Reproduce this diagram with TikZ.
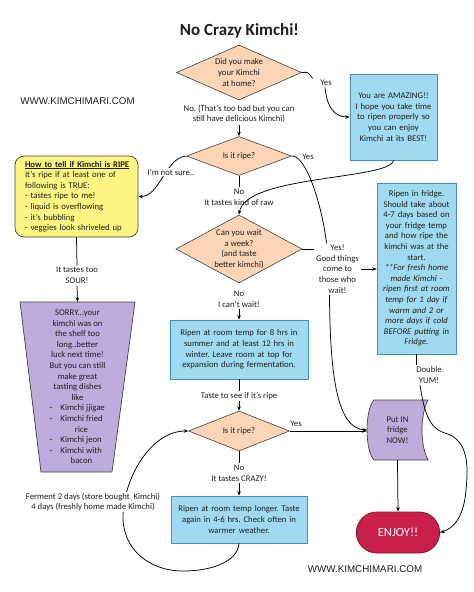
\documentclass[tikz,border=0pt]{standalone}
\usepackage{fontspec}
\setmainfont{Carlito}
\newfontfamily\arialfont{Liberation Sans}
\usetikzlibrary{shapes.geometric,shapes.misc,arrows.meta,backgrounds}
\definecolor{peach}{RGB}{251,213,181}
\definecolor{skyfill}{RGB}{160,218,240}
\definecolor{skyline}{RGB}{70,140,190}
\definecolor{yelfill}{RGB}{255,245,130}
\definecolor{purfill}{RGB}{190,172,220}
\definecolor{enjfill}{RGB}{200,32,75}
\definecolor{enjline}{RGB}{130,20,45}
\definecolor{ink}{RGB}{30,30,30}
\frenchspacing
\begin{document}
\frenchspacing
\begin{tikzpicture}[x=1pt,y=-1pt,
  txt/.style={font=\fontsize{8.7}{10.6}\selectfont\frenchspacing, text=ink, align=center, inner sep=1.5pt},
  lbl/.style={txt},
  dia/.style={diamond, draw=black!75, line width=0.6pt, fill=peach, inner sep=0pt},
  sky/.style={rectangle, draw=skyline, line width=0.7pt, fill=skyfill, txt, inner sep=2pt},
  shapeline/.style={draw=black!75, line width=0.7pt},
  con/.style={draw=black, line width=0.75pt},
  arr/.style={con, -{Stealth[length=4.5pt,width=3.6pt]}},
  web/.style={font=\arialfont\fontsize{9.8}{12}\selectfont, text=ink, anchor=base}
]
\useasboundingbox (0,0) rectangle (474,592);

% titles
\node[font=\bfseries\fontsize{17}{20}\selectfont, text=ink, anchor=base] (title) at (239.5,35) {No Crazy Kimchi!};
\node[web] (web1) at (77.5,104) {WWW.KIMCHIMARI.COM};
\node[web] (web2) at (365,572.5) {WWW.KIMCHIMARI.COM};

% diamonds
\node[dia, minimum width=125pt, minimum height=55pt, label={[txt]center:Did you make\\your Kimchi\\at home?}] (d1) at (239,72.5) {};
\node[dia, minimum width=105pt, minimum height=39pt, label={[txt]center:Is it ripe?}] (d2) at (239,156) {};
\node[dia, minimum width=126pt, minimum height=68pt, label={[txt]center:Can you wait\\a week?\\(and taste\\better kimchi)}] (d3) at (239,249) {};
\node[dia, minimum width=101pt, minimum height=40pt, label={[txt]center:Is it ripe?}] (d4) at (239,431) {};

% blue boxes
\node[sky, minimum width=87pt, minimum height=86pt, text width=83pt] (box1) at (393.5,117) {You are AMAZING!!\\ I hope you take time\\ to ripen properly so\\ you can enjoy\\ Kimchi at its BEST!};
\node[sky, minimum width=138pt, minimum height=59pt, text width=134pt] (box2) at (239,349.5) {Ripen at room temp for 8 hrs in\\ summer and at least 12 hrs in\\ winter. Leave room at top for\\ expansion during fermentation.};
\node[sky, minimum width=79pt, minimum height=171pt, text width=75pt] (box3) at (416.5,268.5) {Ripen in fridge.\\ Should take about\\ 4-7 days based on\\ your fridge temp\\ and how ripe the\\ kimchi was at the\\ start.\\ \textit{**For fresh home}\\ \textit{made Kimchi -}\\ \textit{ripen first at room}\\ \textit{temp for 1 day if}\\ \textit{warm and 2 or}\\ \textit{more days if cold}\\ \textit{BEFORE putting in}\\ \textit{Fridge.}};
\node[sky, minimum width=136pt, minimum height=47pt, text width=132pt] (box4) at (239,519.5) {Ripen at room temp longer. Taste\\ again in 4-6 hrs. Check often in\\ warmer weather.};

% yellow box
\node[shapeline, fill=yelfill, rounded corners=9pt, minimum width=123pt, minimum height=81pt, text width=103pt, inner xsep=10pt, inner ysep=2pt, font=\fontsize{8.7}{10.6}\selectfont, text=ink, align=left] (yellow) at (76.5,196.5) {\underline{\textbf{How to tell if Kimchi is RIPE}}\\ * It’s ripe if at least one of\\ following is TRUE:\\ - tastes ripe to me!\\ - liquid is overflowing\\ - it’s bubbling\\ - veggies look shriveled up};

% sorry trapezoid
\node[txt, minimum height=170pt, minimum width=115pt] (sorry) at (77.5,387) {SORRY...your\\ kimchi was on\\ the shelf too\\ long..better\\ luck next time!\\ But you can still\\ make great\\ tasting dishes\\ like\\
\makebox[56pt][l]{\makebox[11pt][l]{-}Kimchi jjigae}\\
\makebox[56pt][l]{\makebox[11pt][l]{-}Kimchi fried}\\
\makebox[56pt][l]{\hspace*{11pt}\makebox[42pt]{rice}}\\
\makebox[56pt][l]{\makebox[11pt][l]{-}Kimchi jeon}\\
\makebox[56pt][l]{\makebox[11pt][l]{-}Kimchi with}\\
\makebox[56pt][l]{\hspace*{11pt}\makebox[42pt]{bacon}}};
\begin{scope}[on background layer]
\draw[shapeline, fill=purfill] (20,302) -- (135,302) -- (112,472) -- (41,472) -- cycle;
\end{scope}

% fridge
\node[txt, minimum width=61pt, minimum height=60pt] (fridge) at (397.5,430) {Put IN\\fridge\\NOW!};
\begin{scope}[on background layer]
\draw[shapeline, fill=purfill] (374,400) -- (428,400) .. controls (420,415) and (420,445) .. (428,460) -- (374,460) .. controls (364.7,450) and (364.7,410) .. (374,400) -- cycle;
\end{scope}

% enjoy
\node[rounded rectangle, draw=enjline, line width=0.8pt, fill=enjfill, minimum width=90pt, minimum height=41pt, text=white, font=\fontsize{12.5}{15}\selectfont] (enjoy) at (398,532.5) {ENJOY!!};

% labels
\node[lbl] (yes1) at (326,83) {Yes};
\node[lbl] (no1) at (239,114) {No. (That’s too bad but you can\\still have delicious Kimchi)};
\node[lbl] (yes2) at (308,157) {Yes};
\node[lbl] (no2) at (239,197) {No\\It tastes kind of raw};
\node[lbl] (wait) at (337.5,269) {Yes!\\Good things\\come to\\those who\\wait!};
\node[lbl] (no3) at (239,299) {No\\I can’t wait!};
\node[lbl] (sour) at (77,275.5) {It tastes too\\SOUR!};
\node[lbl] (taste) at (239,396) {Taste to see if it’s ripe};
\node[lbl] (yes4) at (296,424) {Yes};
\node[lbl] (no4) at (239,473) {No\\It tastes CRAZY!};
\node[lbl] (yum) at (429,375) {Double\\YUM!};

% connectors
\draw[con] (d1.east) .. controls (308,72) .. ([xshift=-6pt]yes1.north west);
\draw[arr] ([xshift=-1pt]yes1.south) .. controls (327,108) and (335,117) .. (box1.west);
\draw[arr] (no1.south) -- (d2.north);
\draw[arr] (d2.west) .. controls (165,158) and (160,196.5) .. (yellow.east);
\draw[con] (d2.east) .. controls (306,155) and (322,205) .. ([xshift=-11pt]wait.north);
\draw[con] (d2.south) -- (no2.north);
\draw[arr] (box1.south) .. controls (390,180) and (245,175) .. (d3.north);
\draw[con] (d3.east) -- (d3.east -| wait.west);
\draw[arr] (wait.east) -- (wait.east -| box3.west);
\draw[arr] ([xshift=-8pt]wait.south) .. controls (330,380) and (338,428) .. (fridge.west);
\draw[arr] (no3.south) -- (box2.north);
\draw[con] (box2.south) -- (taste.north);
\draw[arr] (taste.south) -- (d4.north);
\draw[arr] (d4.east) -- (d4.east -| fridge.west);
\draw[con] (d4.south) -- (no4.north);
\draw[arr] (no4.south) -- (box4.north);
\draw[arr] (box4.south) .. controls (238,560) and (215,571) .. (183,571) .. controls (150,571) and (123,550) .. (123,517) .. controls (123,480) and (150,431) .. (d4.west);
\draw[con] (yellow.south) -- (sour.north);
\draw[arr] (sour.south) -- (sorry.north);
\draw[con] (box3.south) -- (box3.south |- yum.north);
\draw[arr] ([xshift=-9pt]yum.south) .. controls (424,410) and (428,428) .. (445,433) .. controls (470,440) and (468,470) .. (466,490) .. controls (464,515) and (455,528) .. (enjoy.east);
\draw[arr] (fridge.south) -- (enjoy.north);

% labels drawn over curves
\node[lbl, fill=white, inner sep=0.5pt] (notsure) at (171,172) {I’m not sure..};
\node[lbl, fill=white, inner sep=0.5pt] (ferment) at (93,502) {Ferment 2 days (store bought~ Kimchi)\\4 days (freshly home made Kimchi)};
\end{tikzpicture}
\end{document}
